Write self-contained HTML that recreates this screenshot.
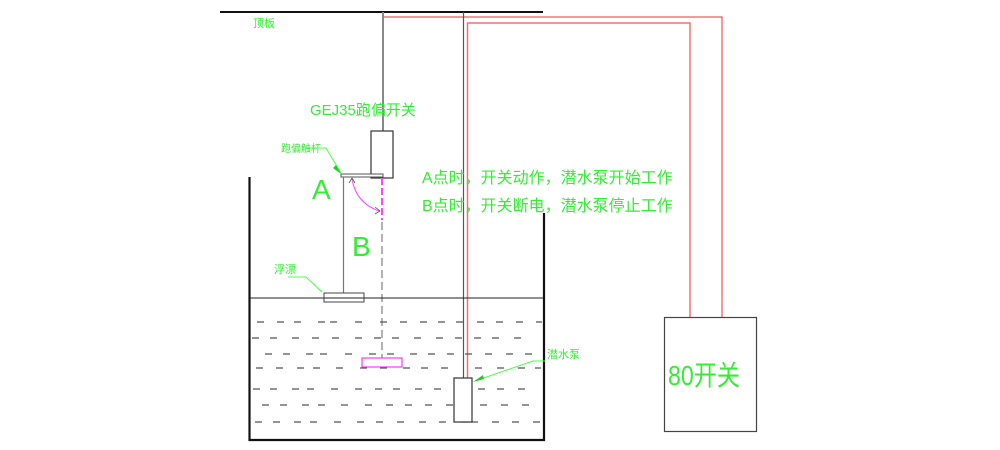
<!DOCTYPE html>
<html><head><meta charset="utf-8"><style>
html,body{margin:0;padding:0;background:#fff;}
svg{display:block;}
text{font-family:"Liberation Sans","Noto Sans CJK SC",sans-serif;fill:#33ee33;}
</style></head><body>
<svg width="1000" height="450" viewBox="0 0 1000 450" xmlns="http://www.w3.org/2000/svg">
<!-- roof -->
<line x1="220" y1="12" x2="543" y2="12" stroke="#111" stroke-width="2"/>
<text x="253" y="27" font-size="11">顶板</text>
<!-- cables -->
<polyline points="384,17 722,17 722,317" fill="none" stroke="#e83030" stroke-width="1"/>
<line x1="383" y1="12" x2="383" y2="131" stroke="#888" stroke-width="2"/>
<line x1="463.5" y1="12" x2="463.5" y2="378" stroke="#555" stroke-width="1.2"/>
<polyline points="467.5,378 467.5,23 690,23 690,317" fill="none" stroke="#f07070" stroke-width="1.5"/>
<!-- switch -->
<text x="310" y="115" font-size="15">GEJ35跑偏开关</text>
<rect x="371" y="131" width="22" height="47" fill="none" stroke="#333" stroke-width="1.2"/>
<text x="281" y="152" font-size="10">跑偏触杆</text>
<polyline points="307,148 326,148 341,173" fill="none" stroke="#44ff44" stroke-width="1"/>
<polygon points="341,174 333,168 336,165" fill="#22cc22"/>
<rect x="341" y="174" width="42" height="3" fill="#fff" stroke="#555" stroke-width="1"/>
<line x1="343.5" y1="177" x2="343.5" y2="293" stroke="#777" stroke-width="1.2"/>
<text x="312" y="199" font-size="28">A</text>
<text x="352" y="256" font-size="28">B</text>
<!-- arc -->
<path d="M352,179 Q356,203 379,211" fill="none" stroke="#ff44ff" stroke-width="1"/>
<path d="M349,183 L352,178 L355,183 M375,207 L380,211 L375,214" fill="none" stroke="#555" stroke-width="0.8"/>
<line x1="382" y1="178" x2="382" y2="220" stroke="#ff44ff" stroke-width="2" stroke-dasharray="7,3"/>
<line x1="382" y1="222" x2="382" y2="358" stroke="#999" stroke-width="1.5" stroke-dasharray="8,4"/>
<rect x="362" y="358" width="40" height="9" fill="none" stroke="#ff33ff" stroke-width="1.2"/>
<!-- text -->
<text x="422" y="183" font-size="16">A点时，开关动作，潜水泵开始工作</text>
<text x="422" y="211" font-size="16">B点时，开关断电，潜水泵停止工作</text>
<!-- tank -->
<polyline points="249.5,177 249.5,440 544,440 544,213" fill="none" stroke="#111" stroke-width="2.2"/>
<line x1="250" y1="298" x2="543" y2="298" stroke="#222" stroke-width="1"/>
<text x="274" y="273" font-size="11">浮漂</text>
<polyline points="288,277 306,277 322,292" fill="none" stroke="#44ff44" stroke-width="1"/>
<rect x="324" y="293" width="40" height="9" fill="none" stroke="#444" stroke-width="1"/>
<!-- water dashes -->
<g stroke="#555" stroke-width="1.2">
<path d="M257,322h7M277,322h7M294,322h7M318,322h7M330,322h7M355,322h7M380,322h7M400,322h7M420,322h7M438,322h7M456,322h7M477,322h7M496,322h7M516,322h7M536,322h6
M252,338h7M270,338h7M292,338h7M312,338h7M332,338h7M355,338h7M374,338h7M392,338h7M414,338h7M436,338h7M455,338h7M474,338h7M492,338h7M514,338h7
M265,354h7M283,354h7M306,354h7M320,354h7M345,354h7M369,354h7M387,354h7M410,354h7M428,354h7M447,354h7M465,354h7M485,354h7M506,354h7M525,354h7
M256,368h7M276,368h7M297,368h7M313,368h7M336,368h7M360,368h7M380,368h7M403,368h7M421,368h7M441,368h7M475,368h7M497,368h7M518,368h7M535,368h6
M253,389h7M270,389h7M292,389h7M307,389h7M331,389h7M355,389h7M375,389h7M393,389h7M415,389h7M434,389h7M458,389h7M478,389h7M497,389h7M518,389h7
M262,405h7M280,405h7M302,405h7M318,405h7M341,405h7M365,405h7M386,405h7M405,405h7M425,405h7M446,405h7M465,405h7M480,405h7M501,405h7M522,405h7
M255,422h7M273,422h7M294,422h7M310,422h7M334,422h7M357,422h7M376,422h7M397,422h7M419,422h7M439,422h7M461,422h7M471,422h7M492,422h7M512,422h7M533,422h7"/>
</g>
<!-- pump -->
<rect x="454" y="378" width="18" height="44" fill="#fff" stroke="#333" stroke-width="1.2"/>
<text x="547" y="358" font-size="11">潜水泵</text>
<polyline points="545,361 533,361 475,381" fill="none" stroke="#44ff44" stroke-width="1"/>
<polygon points="473,382 483,375 484,379" fill="#22cc22"/>
<!-- 80 switch -->
<rect x="664.5" y="317.5" width="92" height="114" fill="none" stroke="#444" stroke-width="1.2"/>
<text x="668" y="385" font-size="28" textLength="72" lengthAdjust="spacingAndGlyphs">80开关</text>
</svg>
</body></html>
